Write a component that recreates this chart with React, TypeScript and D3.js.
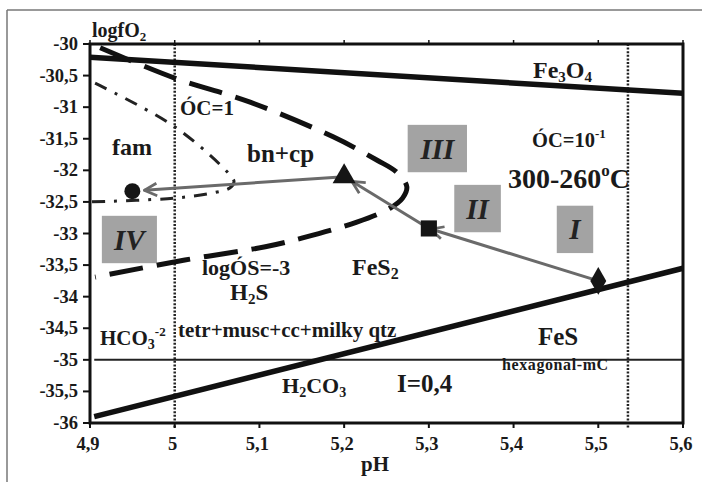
import React from "react";
import * as d3 from "d3";

const W = 702, H = 482;
const xTicks = [4.9, 5.0, 5.1, 5.2, 5.3, 5.4, 5.5, 5.6];
const xTickLabels = ["4,9", "5", "5,1", "5,2", "5,3", "5,4", "5,5", "5,6"];
const yTicks = [-30, -30.5, -31, -31.5, -32, -32.5, -33, -33.5, -34, -34.5, -35, -35.5, -36];
const yTickLabels = ["-30", "-30,5", "-31", "-31,5", "-32", "-32,5", "-33", "-33,5", "-34", "-34,5", "-35", "-35,5", "-36"];

// Fe3O4 / FeS2 boundary (top thick line)
const fe3o4Line: [number, number][] = [[4.9, -30.21], [5.6, -30.78]];
// FeS2 / FeS boundary (bottom thick line)
const fesLine: [number, number][] = [[4.905, -35.9], [5.6, -33.55]];
// H2S / HCO3 boundary
const carbLine: [number, number][] = [[4.905, -35.0], [5.6, -35.0]];
// dotted verticals
const dottedPH = [5.0, 5.535];
// logΣS = -3 dashed curve
const sulfurCurve: [number, number][] = [
  [4.912, -30.06], [5.0, -30.54], [5.089, -30.92], [5.187, -31.47], [5.239, -31.84],
  [5.262, -32.03], [5.274, -32.26], [5.269, -32.44], [5.254, -32.6], [5.215, -32.82],
  [5.151, -33.07], [5.107, -33.21], [5.012, -33.42], [4.906, -33.69],
];
// ΣC = 1 dash-dot curve
const carbonCurve: [number, number][] = [
  [4.906, -30.62], [5.0, -31.31], [5.063, -32.04], [5.07, -32.18], [5.065, -32.28],
  [5.044, -32.36], [5.0, -32.44], [4.9, -32.5],
];
// evolution path points
const pathPH = [5.5, 5.3, 5.2, 4.95];
const pathFO2 = [-33.75, -32.92, -32.1, -32.33];
const pathSymbols = ["diamond", "square", "triangle", "circle"];

// stage boxes: label, pH range, fO2 range
const boxLabels = ["III", "II", "I", "IV"];
const boxPH: [number, number][] = [[5.275, 5.345], [5.33, 5.385], [5.451, 5.494], [4.914, 4.979]];
const boxFO2: [number, number][] = [[-31.28, -32.03], [-32.23, -32.98], [-32.56, -33.31], [-32.72, -33.47]];

export default function App() {
  const x = d3.scaleLinear().domain([4.9, 5.6]).range([90, 683]);
  const y = d3.scaleLinear().domain([-36, -30]).range([423, 44]);
  const line = d3.line<[number, number]>().x(d => x(d[0])).y(d => y(d[1]));
  const curve = d3.line<[number, number]>().x(d => x(d[0])).y(d => y(d[1])).curve(d3.curveCatmullRom.alpha(0.5));

  const serif = "'Liberation Serif', 'DejaVu Serif', serif";
  const symGen = (t: string) => {
    const map: any = {
      diamond: [d3.symbolDiamond, 220],
      square: [d3.symbolSquare, 260],
      triangle: [d3.symbolTriangle, 230],
      circle: [d3.symbolCircle, 200],
    };
    return d3.symbol().type(map[t][0]).size(map[t][1])() as string;
  };

  const pts = pathPH.map((p, i) => [x(p), y(pathFO2[i])]);
  const shorten = (a: number[], b: number[], d: number) => {
    const dx = b[0] - a[0], dy = b[1] - a[1];
    const L = Math.hypot(dx, dy);
    return [b[0] - (dx / L) * d, b[1] - (dy / L) * d];
  };
  const seg1End = shorten(pts[0], pts[1], 2);
  const seg2End = shorten(pts[1], pts[2], 9);
  const seg3End = shorten(pts[2], pts[3], 12);

  const T = (props: any) => <text fontFamily={serif} fontWeight="bold" fill="#1a1a1a" {...props} />;

  return (
    <svg width={W} height={H} style={{ position: "absolute", left: 0, top: 0, background: "#fff" }}>
      <defs>
        <marker id="ah" viewBox="0 0 12 12" refX="11" refY="6" markerWidth="5" markerHeight="5" orient="auto" markerUnits="strokeWidth">
          <path d="M1,1 L11,6 L1,11" fill="none" stroke="#6a6a6a" strokeWidth="2.2" />
        </marker>
      </defs>
      {/* page frame */}
      <line x1={7} y1={10} x2={702} y2={10} stroke="#777" strokeWidth={1.5} />
      <line x1={7} y1={10} x2={7} y2={482} stroke="#777" strokeWidth={1.5} />

      {/* boxes */}
      {boxLabels.map((b, i) => (
        <g key={b}>
          <rect x={x(boxPH[i][0])} y={y(boxFO2[i][0])} width={x(boxPH[i][1]) - x(boxPH[i][0])}
            height={y(boxFO2[i][1]) - y(boxFO2[i][0])} fill="#a3a3a3" />
          <text x={(x(boxPH[i][0]) + x(boxPH[i][1])) / 2} y={(y(boxFO2[i][0]) + y(boxFO2[i][1])) / 2 + 10}
            textAnchor="middle" fontFamily={serif} fontStyle="italic" fontWeight="bold" fontSize={29} fill="#222">{b}</text>
        </g>
      ))}

      {/* dotted verticals */}
      {dottedPH.map(p => (
        <line key={p} x1={x(p)} x2={x(p)} y1={y(-30)} y2={y(-36) + 5} stroke="#222" strokeWidth={2.5} strokeDasharray="2,1.6" />
      ))}

      {/* carbonate line */}
      <path d={line(carbLine) as string} stroke="#222" strokeWidth={2} fill="none" />
      {/* thick boundaries */}
      <path d={line(fe3o4Line) as string} stroke="#111" strokeWidth={5.5} fill="none" />
      <path d={line(fesLine) as string} stroke="#111" strokeWidth={5.5} fill="none" />
      {/* sulfur dashed curve */}
      <path d={curve(sulfurCurve) as string} stroke="#111" strokeWidth={5} fill="none" strokeDasharray="34,14" />
      {/* carbon dash-dot curve */}
      <path d={curve(carbonCurve) as string} stroke="#222" strokeWidth={3} fill="none" strokeDasharray="13,9,3,9" />

      {/* evolution path */}
      <line x1={pts[0][0]} y1={pts[0][1]} x2={seg1End[0]} y2={seg1End[1]} stroke="#6a6a6a" strokeWidth={3} markerEnd="url(#ah)" />
      <line x1={pts[1][0]} y1={pts[1][1]} x2={seg2End[0]} y2={seg2End[1]} stroke="#6a6a6a" strokeWidth={3} markerEnd="url(#ah)" />
      <line x1={pts[2][0]} y1={pts[2][1]} x2={seg3End[0]} y2={seg3End[1]} stroke="#6a6a6a" strokeWidth={3} markerEnd="url(#ah)" />
      {pts.map((p, i) => (
        <path key={i} d={symGen(pathSymbols[i])} transform={`translate(${p[0]},${p[1]})`} fill="#151515" />
      ))}

      {/* plot frame */}
      <rect x={90} y={44} width={593} height={379} fill="none" stroke="#111" strokeWidth={3} />
      {yTicks.map(t => (
        <line key={t} x1={83} x2={90} y1={y(t)} y2={y(t)} stroke="#111" strokeWidth={2} />
      ))}
      {xTicks.map(t => (
        <g key={t}>
          <line x1={x(t)} x2={x(t)} y1={423} y2={428} stroke="#111" strokeWidth={2} />
          <line x1={x(t)} x2={x(t)} y1={44} y2={40} stroke="#111" strokeWidth={1.5} />
        </g>
      ))}
      {yTicks.map((t, i) => (
        <T key={t} x={78} y={y(t) + 6} textAnchor="end" fontSize={18.5}>{yTickLabels[i]}</T>
      ))}
      {xTicks.map((t, i) => (
        <T key={t} x={x(t) - 2} y={450} textAnchor="middle" fontSize={18.5}>{xTickLabels[i]}</T>
      ))}
      <T x={375} y={471} textAnchor="middle" fontSize={21}>pH</T>
      <T x={92} y={37} fontSize={20}>logfO<tspan fontSize={13} dy={4}>2</tspan></T>

      {/* annotations */}
      <T x={533} y={78} fontSize={24}>Fe<tspan fontSize={15} dy={4}>3</tspan><tspan dy={-4}>O</tspan><tspan fontSize={15} dy={4}>4</tspan></T>
      <T x={180} y={115} fontSize={21}>ÓC=1</T>
      <T x={112} y={155} fontSize={24}>fam</T>
      <T x={247} y={162} fontSize={25}>bn+cp</T>
      <T x={532} y={147} fontSize={20.5}>ÓC=10<tspan fontSize={13} dy={-9}>-1</tspan></T>
      <T x={508} y={188} fontSize={28}>300-260<tspan fontSize={17} dy={-12}>o</tspan><tspan dy={12}>C</tspan></T>
      <T x={202} y={275} fontSize={22}>logÓS=-3</T>
      <T x={352} y={275} fontSize={24}>FeS<tspan fontSize={16} dy={4}>2</tspan></T>
      <T x={230} y={300} fontSize={23}>H<tspan fontSize={15} dy={4}>2</tspan><tspan dy={-4}>S</tspan></T>
      <T x={178} y={337} fontSize={21}>tetr+musc+cc+milky qtz</T>
      <T x={100} y={345} fontSize={21}>HCO<tspan fontSize={14} dy={4}>3</tspan><tspan fontSize={13} dy={-13}>-2</tspan></T>
      <T x={538} y={345} fontSize={25}>FeS</T>
      <T x={502} y={370} fontSize={16} letterSpacing={0.6}>hexagonal-mC</T>
      <T x={282} y={393} fontSize={22}>H<tspan fontSize={14} dy={4}>2</tspan><tspan dy={-4}>CO</tspan><tspan fontSize={14} dy={4}>3</tspan></T>
      <T x={397} y={392} fontSize={25}>I=0,4</T>
    </svg>
  );
}
